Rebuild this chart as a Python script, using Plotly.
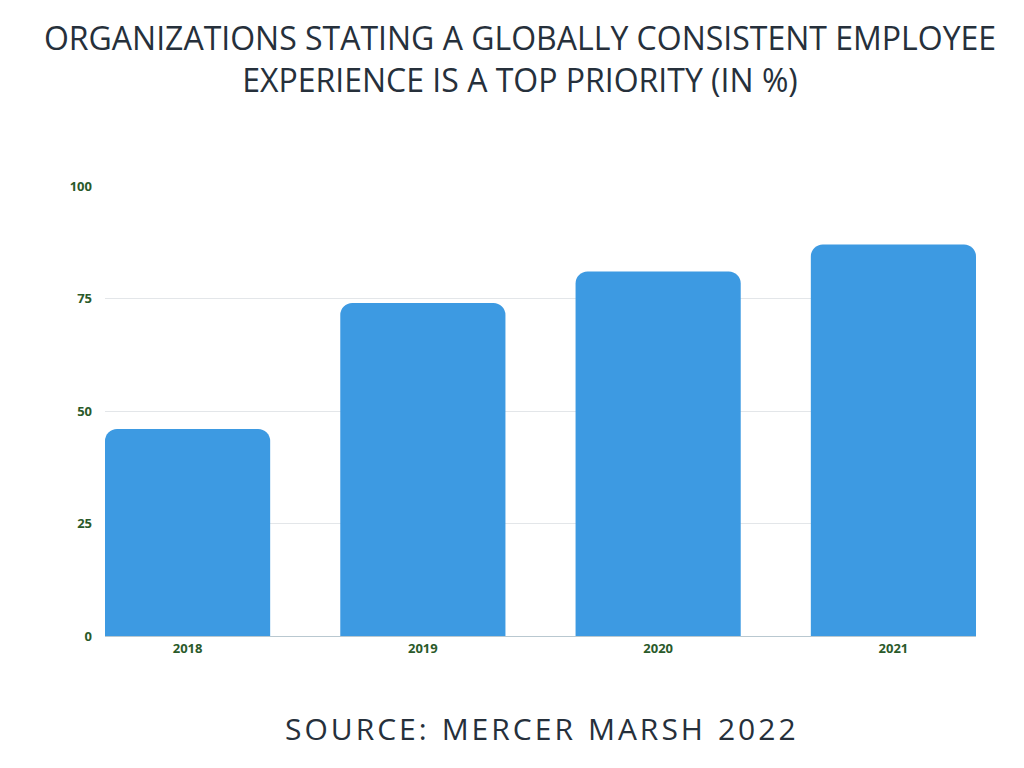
import plotly.graph_objects as go

years = ["2018", "2019", "2020", "2021"]
share = [46, 74, 81, 87]
y_ticks = [0, 25, 50, 75, 100]

fig = go.Figure()
fig.add_trace(go.Bar(x=years, y=share, marker_color="#3d9ae2", marker_line_width=0))

fig.update_layout(
    width=1024, height=768,
    paper_bgcolor="white", plot_bgcolor="white",
    margin=dict(l=97, r=56, t=178, b=140),
    bargap=0.298,
    barcornerradius=12,
    showlegend=False,
    font=dict(family="Open Sans", color="#2b3a4a"),
    title=dict(
        text="ORGANIZATIONS STATING A GLOBALLY CONSISTENT EMPLOYEE<br>EXPERIENCE IS A TOP PRIORITY (IN %)",
        x=0.5, xanchor="center", y=0.945, yanchor="top",
        font=dict(family="Open Sans", size=32, color="#26303b"),
    ),
)
fig.update_yaxes(
    range=[0, 100], tickvals=y_ticks, showgrid=True, gridcolor="#e3e6e9",
    zeroline=False, ticks="", ticklabelstandoff=12, automargin=False,
    tickfont=dict(family="Open Sans", size=13, color="#2a5a2a", weight="bold"),
)
fig.update_xaxes(
    range=[-0.351, 3.351], automargin=False,
    showline=True, linecolor="#b9c8d0", ticks="",
    tickfont=dict(family="Open Sans", size=13, color="#2a5a2a", weight="bold"),
)
fig.add_annotation(
    text="S O U R C E :  M E R C E R  M A R S H  2 0 2 2".replace("  ", "\u2002").replace(" ", "\u200a"),
    xref="paper", yref="paper",
    x=0.5, y=-0.205, xanchor="center", yanchor="middle", showarrow=False,
    font=dict(family="Open Sans", size=30, color="#26303b"),
)

fig.write_html("out.html")
